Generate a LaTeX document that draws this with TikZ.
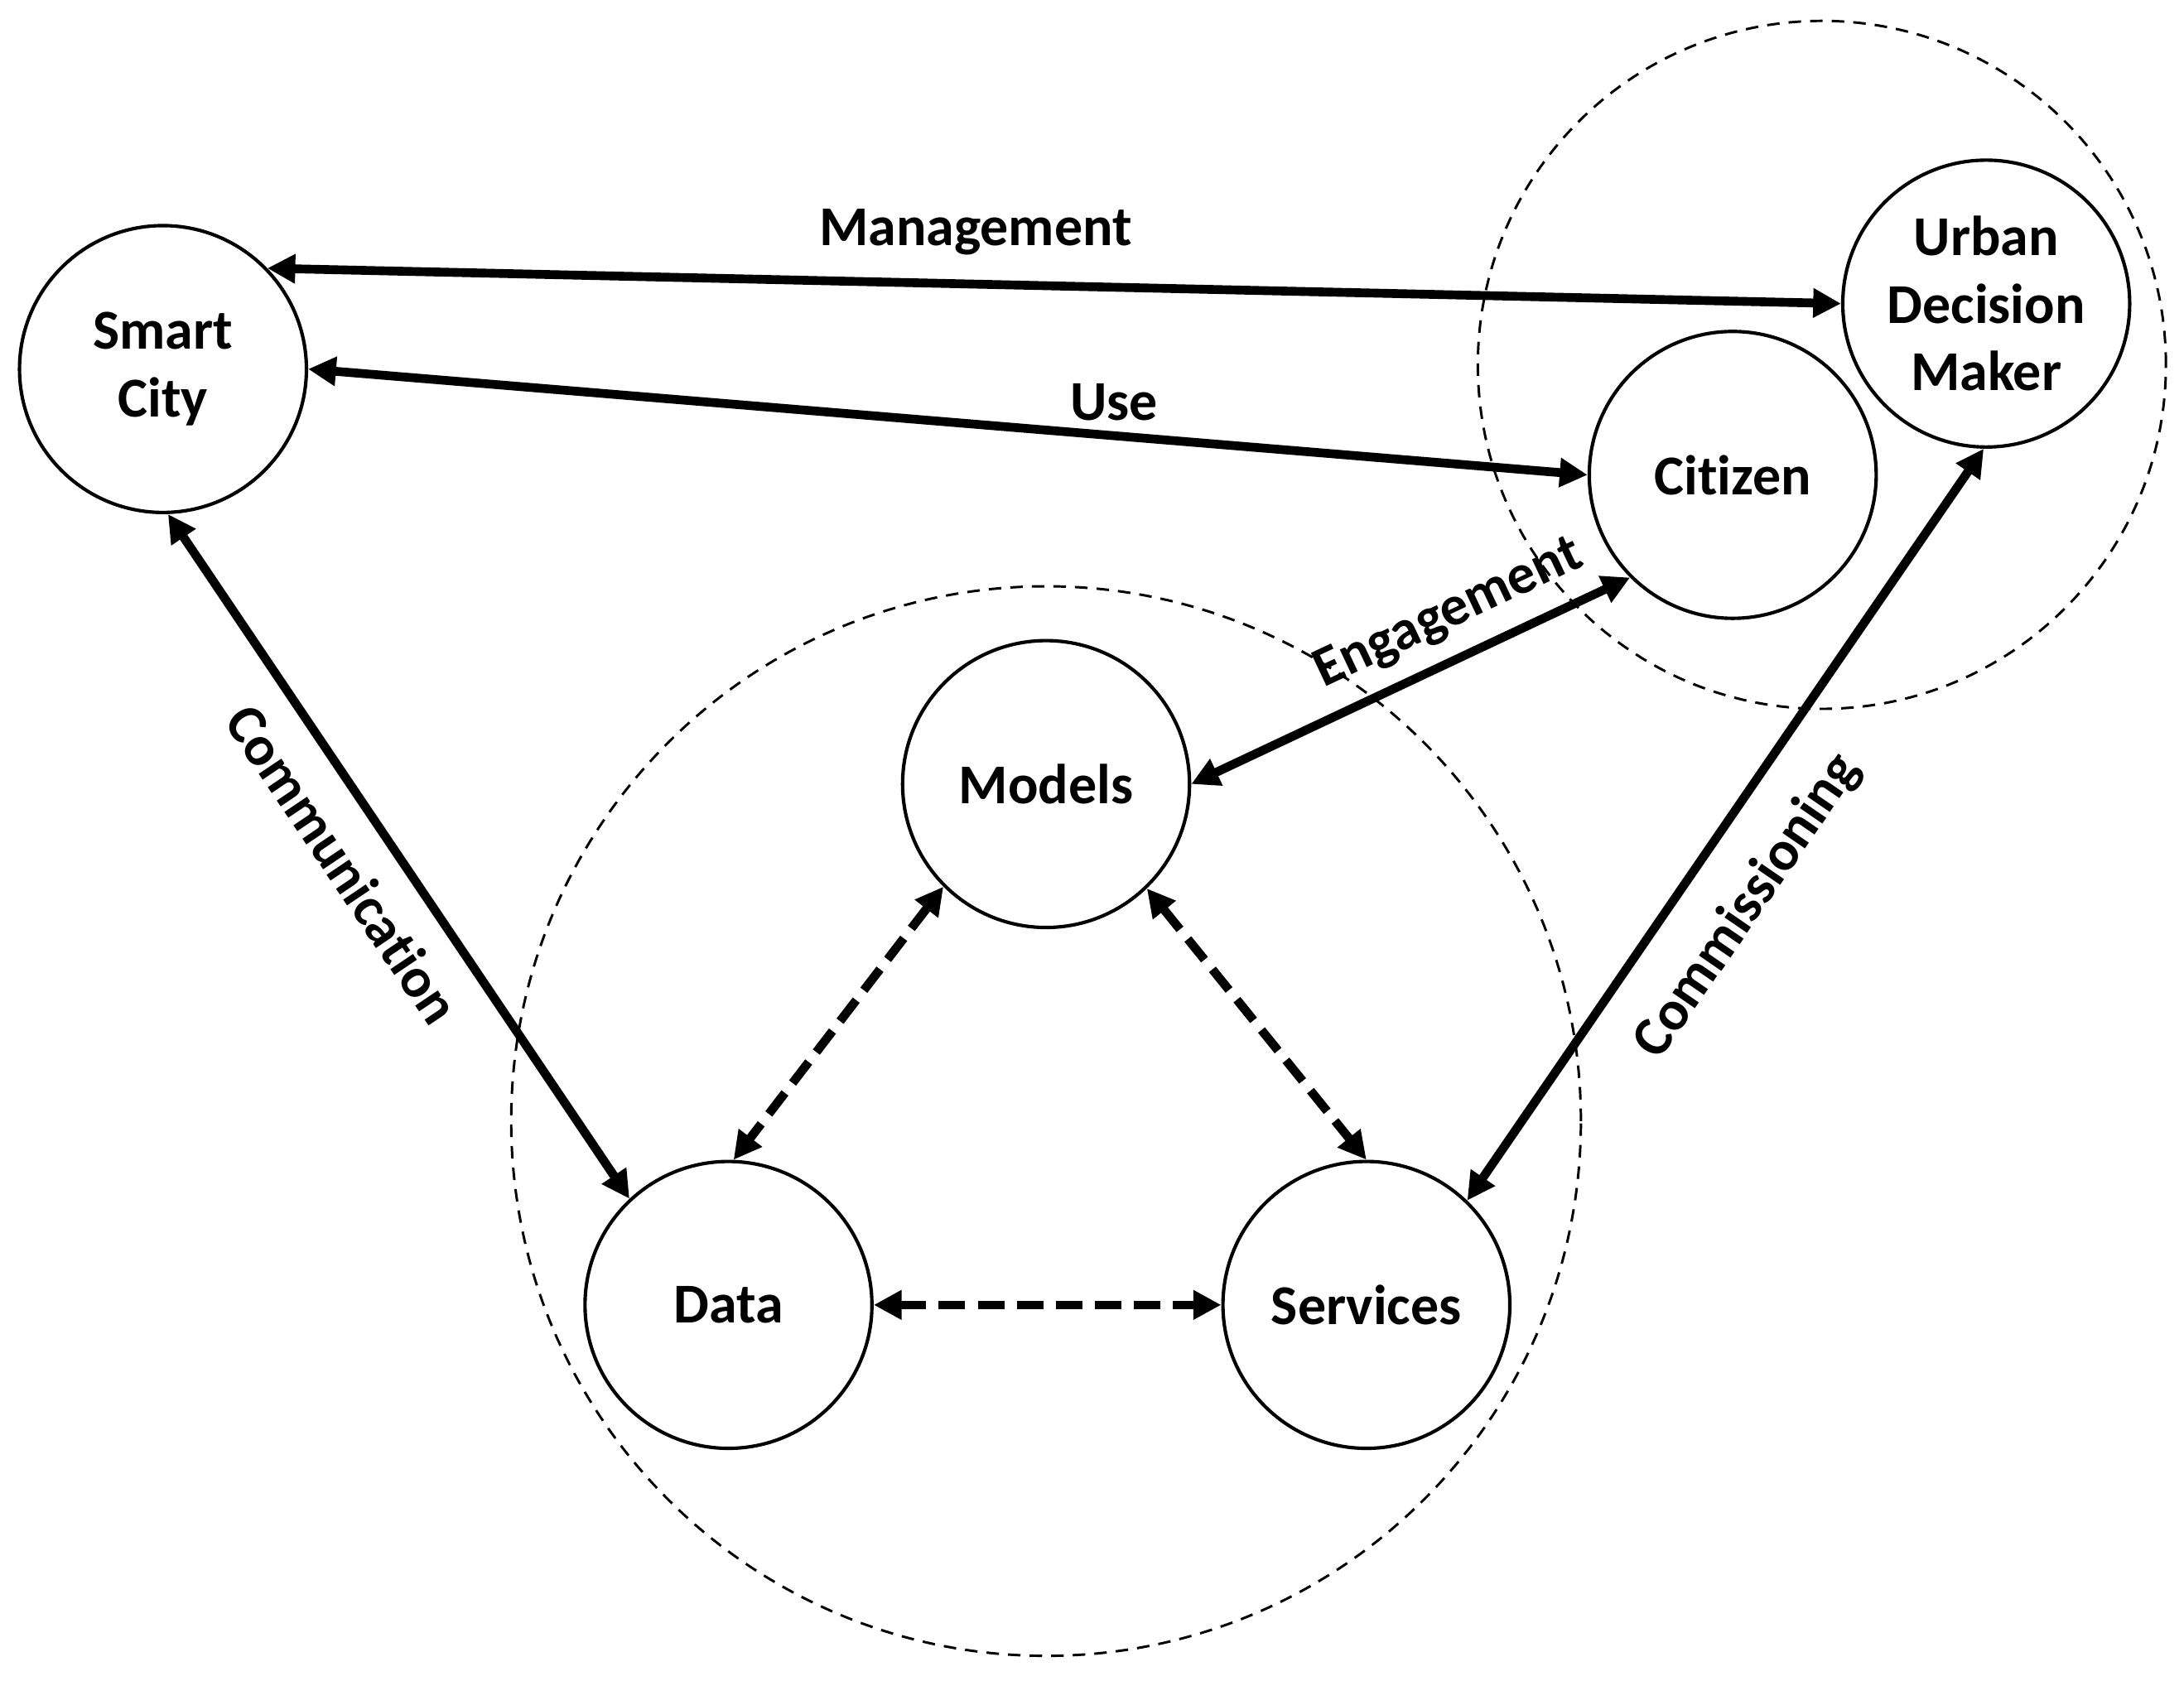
\documentclass[tikz,border=0pt]{standalone}
\usepackage{fontspec}
\setmainfont[Ligatures=NoCommon]{Carlito}
\usetikzlibrary{arrows.meta}
\usetikzlibrary{positioning}

\begin{document}
\begin{tikzpicture}
    \tikzset{
        every node/.style={font=\fontsize{11.5}{13.8}\selectfont\bfseries},
        actor/.style={draw, circle, line width=0.7pt, fill=white, minimum size=2.06cm, inner sep=0pt, align=center},
        zone/.style={line width=0.5pt, dash pattern=on 0.09cm off 0.065cm},
        link/.style={{Triangle[length=0.2cm,width=0.2cm]}-{Triangle[length=0.2cm,width=0.2cm]}, line width=1.8pt},
        flow/.style={link, dash pattern=on 0.19cm off 0.09cm}
    }
    \useasboundingbox (0,0) rectangle (15.68,-12.07);

    % draw dashed zones
    \draw[zone] (7.51,-8.05) circle (3.84);
    \draw[zone] (13.08,-2.62) circle (2.47);

    % draw actors
    \node[actor] (city) at (1.17,-2.65) {Smart\\City};
    \node[actor] (udm) at (14.26,-2.18) {Urban\\Decision\\Maker};
    \node[actor] (cit) at (12.44,-3.41) {Citizen};
    \node[actor] (mod) at (7.51,-5.63) {Models};
    \node[actor] (dat) at (5.23,-9.37) {Data};
    \node[actor] (srv) at (9.81,-9.37) {Services};

    % draw outer links
    \draw[link] (city.44) -- (udm.180) node[pos=0.45, above=0.06cm] (mgmt) {Management};
    \draw[link] (city.0) -- (cit.180) node[pos=0.63, above=-0.04cm] (use) {Use};
    \draw[link] (city.-88) -- (dat.133) node[pos=0.47, sloped, below=0.07cm] (comm) {Communication};
    \draw[link] (srv.46) -- (udm.-91) node[pos=0.44, sloped, below=0.14cm] (cms) {Commissioning};
    \draw[link] (mod.0) -- (cit.225) node[pos=0.63, sloped, above] (eng) {Engagement};

    % draw inner flows
    \draw[flow] (mod.225) -- (dat.88);
    \draw[flow] (mod.314) -- (srv.90);
    \draw[flow] (dat.0) -- (srv.180);

\end{tikzpicture}
\end{document}
